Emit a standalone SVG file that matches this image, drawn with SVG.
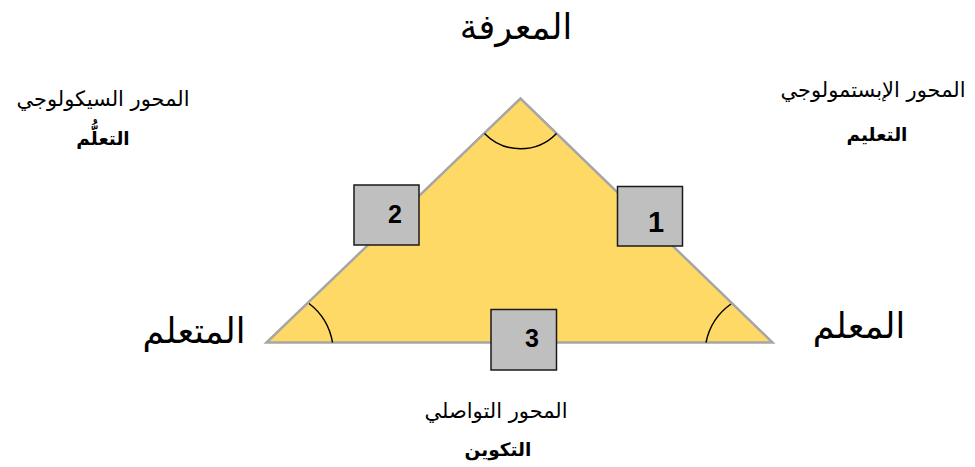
<svg xmlns="http://www.w3.org/2000/svg" width="975" height="467" viewBox="0 0 975 467">
<style>
.ar{font-family:"DejaVu Sans","Noto Sans",sans-serif;fill:#000;text-anchor:middle}
.big{font-size:35px}
.lab{font-size:21px}
.bold{font-size:18.5px;font-weight:bold}
.box{fill:#BFBFBF;stroke:#1a1a1a;stroke-width:1.5}
.num{font-family:"Liberation Sans",Arial,sans-serif;font-weight:bold;fill:#000;text-anchor:middle}
.arc{fill:none;stroke:#000;stroke-width:1.5}
</style>
<rect width="975" height="467" fill="#fff"/>
<g id="triangle">
<polygon points="520.5,98.5 266.5,342.5 772.5,342.5" fill="#FFD966" stroke="#A6A6A6" stroke-width="2.5" stroke-linejoin="miter"/>
<path class="arc" d="M484.5,133.5 A50,50 0 0 0 556.5,133.5"/>
<path class="arc" d="M309,303.5 A62,62 0 0 1 332.5,342.5"/>
<path class="arc" d="M731,304 A62,62 0 0 0 706,342.5"/>
</g>
<g id="box1">
<rect class="box" x="617.5" y="186.5" width="65" height="59.5"/>
<text class="num" x="656" y="232" font-size="29">1</text>
</g>
<g id="box2">
<rect class="box" x="354" y="185" width="65" height="60"/>
<text class="num" x="395" y="223" font-size="25">2</text>
</g>
<g id="box3">
<rect class="box" x="491" y="309.5" width="65.5" height="60.5"/>
<text class="num" x="532" y="347" font-size="25">3</text>
</g>
<g id="knowledge"><text class="ar big" x="516" y="39">المعرفة</text></g>
<g id="learner"><text class="ar big" x="194" y="343" font-size="36">المتعلم</text></g>
<g id="teacher"><text class="ar big" x="859" y="338">المعلم</text></g>
<g id="psych">
<text class="ar lab" x="103" y="106">المحور السيكولوجي</text>
<text class="ar bold" x="103" y="145">التعلُّم</text>
</g>
<g id="epist">
<text class="ar lab" x="873" y="97">المحور الإبستمولوجي</text>
<text class="ar bold" x="877" y="141">التعليم</text>
</g>
<g id="comm">
<text class="ar lab" x="496" y="418">المحور التواصلي</text>
<text class="ar bold" x="498" y="456">التكوين</text>
</g>
</svg>
